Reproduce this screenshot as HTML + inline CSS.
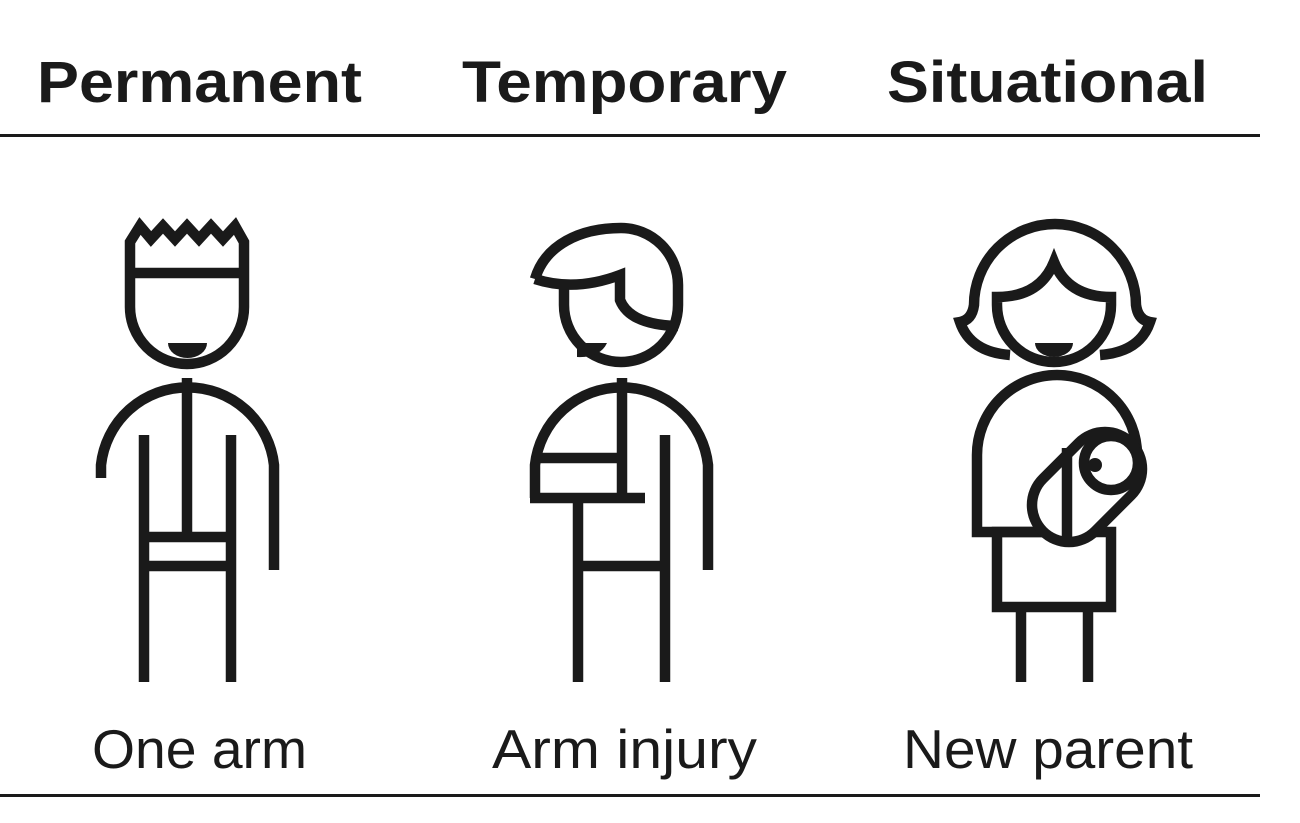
<!DOCTYPE html>
<html><head><meta charset="utf-8"><style>
html,body{margin:0;padding:0;background:#fff;}
svg{display:block;}
</style></head><body>
<svg width="1300" height="823" viewBox="0 0 1300 823" xmlns="http://www.w3.org/2000/svg">
<rect width="1300" height="823" fill="#fff"/>
<g font-family="Liberation Sans, sans-serif" fill="#1a1a1a">
<text x="37" y="102" font-size="58" font-weight="bold" textLength="325" lengthAdjust="spacingAndGlyphs">Permanent</text>
<text x="462" y="102" font-size="58" font-weight="bold" textLength="325" lengthAdjust="spacingAndGlyphs">Temporary</text>
<text x="887" y="102" font-size="58" font-weight="bold" textLength="321" lengthAdjust="spacingAndGlyphs">Situational</text>
<text x="92" y="768" font-size="55" textLength="215" lengthAdjust="spacingAndGlyphs">One arm</text>
<text x="492" y="768" font-size="55" textLength="265" lengthAdjust="spacingAndGlyphs">Arm injury</text>
<text x="903" y="768" font-size="55" textLength="290" lengthAdjust="spacingAndGlyphs">New parent</text>
</g>
<rect x="0" y="134" width="1260" height="3" fill="#1a1a1a"/>
<rect x="0" y="794" width="1260" height="3" fill="#1a1a1a"/>

<g fill="none" stroke="#1a1a1a" stroke-width="10.5" stroke-linejoin="miter">
<!-- Figure 1 -->
<path d="M130,242 L140,226 L151,239 L163,226 L175,239 L187,226 L199,239 L211,226 L223,239 L235,226 L244,242 L244,307 A57,57 0 0 1 130,307 Z"/>
<line x1="130" y1="273" x2="244" y2="273"/>
<path d="M101,478 L101,465 A87,87 0 0 1 274,465 L274,570"/>
<line x1="187" y1="378" x2="187" y2="537"/>
<line x1="144" y1="435" x2="144" y2="682"/>
<line x1="231" y1="435" x2="231" y2="682"/>
<line x1="144" y1="537" x2="231" y2="537"/>
<line x1="144" y1="566" x2="231" y2="566"/>

<!-- Figure 2 -->
<path d="M535,279 C545,245 580,228 621,228 A57,57 0 0 1 678,285 L678,305 A57,57 0 0 1 564,305 L564,287"/>
<path d="M535,279 Q575,292 620,275 L620,300 Q630,325 678,326"/>
<path d="M535,498 L535,465 A87,87 0 0 1 708,465 L708,570"/>
<line x1="535" y1="458" x2="622" y2="458"/>
<line x1="530" y1="498" x2="645" y2="498"/>
<line x1="622" y1="378" x2="622" y2="498"/>
<line x1="578" y1="498" x2="578" y2="682"/>
<line x1="665" y1="435" x2="665" y2="682"/>
<line x1="578" y1="566" x2="665" y2="566"/>

<!-- Figure 3 -->
<path d="M1010,355 Q970,352 960,322 Q972,320 974,305 A81,81 0 0 1 1136,305 Q1138,320 1150,322 Q1140,352 1100,355"/>
<path d="M997,297 Q1040,297 1054,262 Q1068,297 1111,297 L1111,305 A57,57 0 0 1 997,305 Z"/>
<path d="M1045,532 L977,532 L977,455 A80,80 0 0 1 1137,455 L1137,475"/>
<rect x="997" y="532" width="114" height="75"/>
<line x1="1021" y1="607" x2="1021" y2="682"/>
<line x1="1088" y1="607" x2="1088" y2="682"/>
<line x1="1069" y1="505" x2="1105" y2="469" stroke-width="84.5" stroke-linecap="round"/>
<line x1="1069" y1="505" x2="1105" y2="469" stroke="#fff" stroke-width="63.5" stroke-linecap="round"/>
<line x1="1067" y1="448" x2="1067" y2="540"/>
<circle cx="1111" cy="463" r="27" fill="#fff"/>
</g>
<g fill="#1a1a1a">
<path d="M168,343 A19.5,15 0 0 0 207,343 Z"/>
<path d="M577,343 L607,343 Q600,358 577,357 Z"/>
<path d="M1035,343 A19,14 0 0 0 1073,343 Z"/>
<circle cx="1095" cy="465" r="7"/>
</g>
</svg>
</body></html>
